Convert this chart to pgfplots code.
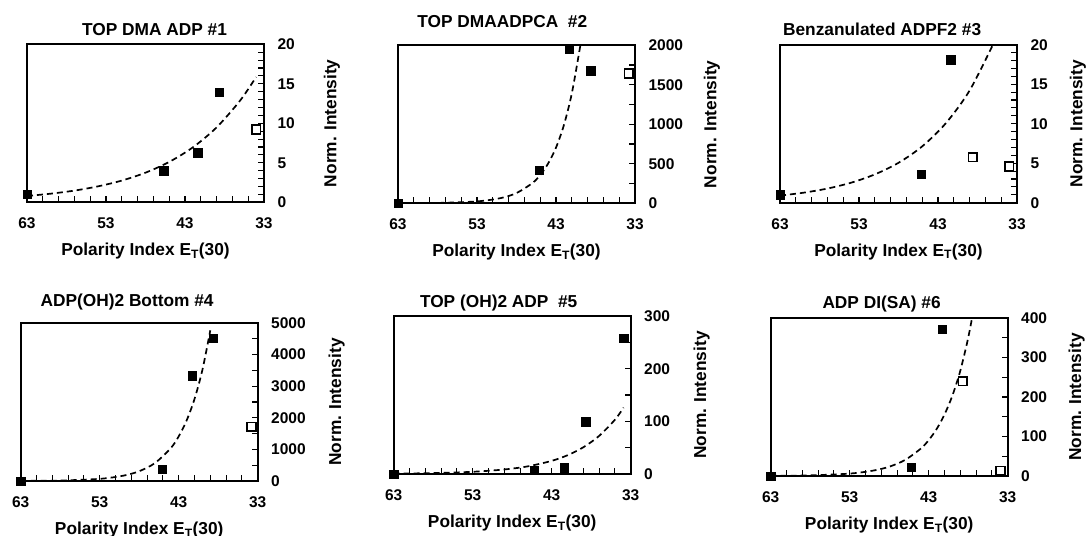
\documentclass[border=0pt]{standalone}
\usepackage{fontspec}
\setmainfont{Liberation Sans}
\usepackage{pgfplots}
\pgfplotsset{compat=1.18}

\newcommand{\lblfont}{\bfseries\fontsize{17.3}{18}\selectfont}
\newcommand{\tickfont}{\bfseries\fontsize{15.5}{16}\selectfont}

\pgfplotsset{
  every axis title shift=0pt,
  panel/.style={
    scale only axis, width=237pt, height=158pt,
    x dir=reverse, xmin=33, xmax=63, xtick={33,43,53,63},
    minor x tick num=4,
    xtick pos=left, ytick pos=right,
    tick align=inside,
    axis line style={line width=1.8pt},
    major tick length=6pt, minor tick length=6pt,
    every tick/.style={black, line width=1.1pt},
    ymin=0,
    ticklabel style={font=\tickfont},
    xticklabel style={yshift=-12pt},
    yticklabel style={xshift=10pt},
    /pgf/number format/assume math mode=true,
    /pgf/number format/1000 sep={},
    scaled y ticks=false,
    xlabel={Polarity Index E\textsubscript{T}(30)},
    ylabel={Norm. Intensity},
    label style={font=\lblfont},
    xlabel style={at={([yshift=-49pt]axis description cs:0.5,0)}, anchor=center},
    title style={font=\lblfont, anchor=center},
    clip mode=individual,
  },
  filled/.style={only marks, mark=square*, mark size=4.2pt, mark options={fill=black, draw=black}},
  open/.style={only marks, mark=square*, mark size=4.3pt, mark options={fill=white, draw=black, line width=1.7pt}},
  fit/.style={no markers, smooth, black, line width=1.7pt, dash pattern=on 6pt off 4pt},
}

\begin{document}
\begin{tikzpicture}
\useasboundingbox (0pt,0pt) rectangle (1086pt,535pt);

% Panel 1
\begin{axis}[panel, at={(27pt,332.7pt)}, anchor=south west,
  ymax=20, ytick={0,5,10,15,20}, minor y tick num=4,
  title={TOP DMA ADP \#1},
  title style={at={([yshift=15pt]axis description cs:0.538,1)}},
  ylabel style={at={([xshift=68pt]axis description cs:1,0.5)}, anchor=center}]
\addplot[fit] coordinates {(63,0.80) (60,1.09) (57,1.48) (54,2.02) (51,2.75) (48,3.75) (45,5.11) (42,6.96) (39,9.48) (36,12.91) (34,15.86)};
\addplot[filled] coordinates {(63,1) (45.7,4) (41.4,6.3) (38.7,13.9)};
\addplot[open] coordinates {(34,9.2)};
\end{axis}

% Panel 2
\begin{axis}[panel, at={(398pt,331.7pt)}, anchor=south west,
  ymax=2000, ytick={0,500,1000,1500,2000}, minor y tick num=1,
  title={TOP DMAADPCA\ \ \#2},
  title style={at={([yshift=24pt]axis description cs:0.44,1)}},
  ylabel style={at={([xshift=77pt]axis description cs:1,0.5)}, anchor=center}]
\addplot[fit] coordinates {(63,0.83) (58,4.5) (53,24) (50,66) (48,130) (46,255) (45,358) (44,503) (43,705) (42,990) (41,1390) (40,1950) (39.7,2135)};
\addplot[filled] coordinates {(63,0) (45.1,419) (41.3,1950) (38.6,1677)};
\addplot[open] coordinates {(33.8,1644)};
\end{axis}

% Panel 3
\begin{axis}[panel, at={(780pt,332.3pt)}, anchor=south west,
  ymax=20, ytick={0,5,10,15,20}, minor y tick num=4,
  title={Benzanulated ADPF2 \#3},
  title style={at={([yshift=15pt]axis description cs:0.431,1)}},
  ylabel style={at={([xshift=61pt]axis description cs:1,0.5)}, anchor=center}]
\addplot[fit] coordinates {(63,0.90) (60,1.27) (57,1.79) (54,2.53) (51,3.58) (48,5.05) (45,7.13) (42,10.07) (39,14.2) (36,20.1)};
\addplot[filled] coordinates {(63,1) (45.1,3.6) (41.4,18.1)};
\addplot[open] coordinates {(38.6,5.75) (34.0,4.57)};
\end{axis}

% Panel 4
\begin{axis}[panel, at={(20.7pt,54pt)}, anchor=south west,
  ymax=5000, ytick={0,1000,2000,3000,4000,5000}, minor y tick num=1,
  title={ADP(OH)2 Bottom \#4},
  title style={at={([yshift=21pt]axis description cs:0.449,1)}},
  ylabel style={at={([xshift=79pt]axis description cs:1,0.5)}, anchor=center}]
\addplot[fit] coordinates {(63,3.3) (58,15) (53,68) (50,169) (48,310) (46,569) (44,1041) (43,1412) (42,1913) (41,2593) (40,3515) (39,4768)};
\addplot[filled] coordinates {(63,0) (45.1,368) (41.3,3337) (38.6,4526)};
\addplot[open] coordinates {(33.8,1716)};
\end{axis}

% Panel 5
\begin{axis}[panel, at={(393.7pt,61pt)}, anchor=south west,
  ymax=300, ytick={0,100,200,300}, minor y tick num=1,
  title={TOP (OH)2 ADP\ \ \#5},
  title style={at={([yshift=12.5pt]axis description cs:0.443,1)}},
  ylabel style={at={([xshift=71pt]axis description cs:1,0.5)}, anchor=center}]
\addplot[fit] coordinates {(63,0.71) (58,1.73) (53,4.2) (49,8.6) (46,14.6) (43,25) (41,35.6) (39,50.7) (37,72.3) (35,103) (33.9,126)};
\addplot[filled] coordinates {(63,0) (45.2,7.6) (41.4,12) (38.7,99) (33.9,258)};
\end{axis}

% Panel 6
\begin{axis}[panel, at={(770.7pt,59pt)}, anchor=south west,
  ymax=400, ytick={0,100,200,300,400}, minor y tick num=1,
  title={ADP DI(SA) \#6},
  title style={at={([yshift=14pt]axis description cs:0.468,1)}},
  ylabel style={at={([xshift=69pt]axis description cs:1,0.5)}, anchor=center}]
\addplot[fit] coordinates {(63,0.41) (58,1.6) (53,6.1) (50,13.8) (48,23.5) (46,40.5) (44,69.4) (43,90.8) (42,118.8) (41,155.6) (40,203.6) (39,266.5) (38,350) (37.2,434)};
\addplot[filled] coordinates {(63,0) (45.2,21.8) (41.3,372)};
\addplot[open] coordinates {(38.7,240) (33.9,13.4)};
\end{axis}
\end{tikzpicture}
\end{document}
